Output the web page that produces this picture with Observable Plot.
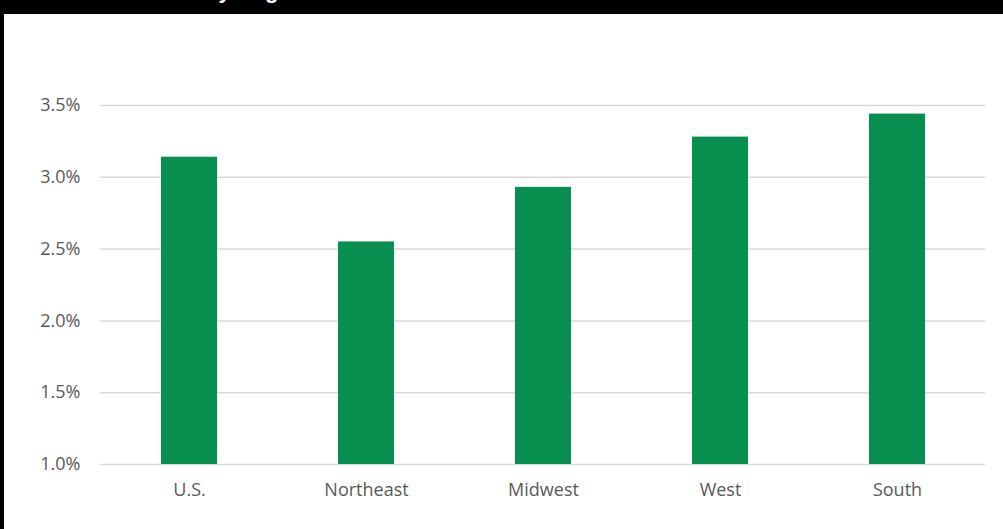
<!DOCTYPE html>
<html>
<head>
<meta charset="utf-8">
<script src="https://cdn.jsdelivr.net/npm/d3@7"></script>
<script src="https://cdn.jsdelivr.net/npm/@observablehq/plot@0.6"></script>
<style>
  html, body { margin: 0; padding: 0; background: #fff; }
  #wrap { position: relative; width: 1003px; height: 529px; overflow: hidden; background: #fff; }
  #bar { position: absolute; left: 0; top: 0; width: 1003px; height: 14px; background: #000; overflow: hidden; }
  #title { position: absolute; top: -20px; left: 0; white-space: nowrap; color: #fff; font: bold 22px "Liberation Sans", Arial, sans-serif; line-height: 1; }
  #border { position: absolute; left: 0; top: 0; width: 4px; height: 529px; background: #000; }
  #chart { position: absolute; left: 0; top: 0; }
</style>
</head>
<body>
<div id="wrap">
  <div id="chart"></div>
  <div id="bar"><span id="title"><span id="pre">Growth </span><span id="post">by Region</span></span></div>
  <div id="border"></div>
</div>
<script>
const categories = ["U.S.", "Northeast", "Midwest", "West", "South"];
const values = [3.14, 2.55, 2.93, 3.28, 3.44];
const yTicks = [1.0, 1.5, 2.0, 2.5, 3.0, 3.5];

const data = categories.map((c, i) => ({category: c, value: values[i]}));

const chart = Plot.plot({
  width: 1003,
  height: 529,
  marginLeft: 100,
  marginRight: 18,
  marginTop: 105,
  marginBottom: 65,
  style: {fontFamily: "'Open Sans', Lato, sans-serif", fontSize: "18px", color: "#595959", background: "transparent"},
  x: {domain: categories, paddingInner: 0.686, paddingOuter: 0.343, label: null},
  y: {domain: [1.0, 3.5], label: null},
  marks: [
    Plot.ruleY(yTicks, {stroke: "#d9d9d9", strokeWidth: 1.5}),
    Plot.barY(data, {x: "category", y1: 1.0, y2: "value", fill: "#078F50"}),
    Plot.axisY({ticks: yTicks, tickSize: 0, tickPadding: 20, tickFormat: d => d.toFixed(1) + "%", label: null, fill: "#595959"}),
    Plot.axisX({tickSize: 0, tickPadding: 19, label: null, fill: "#595959"})
  ]
});
document.getElementById("chart").appendChild(chart);

// position title so that "by" starts near x=205
const pre = document.getElementById("pre");
document.getElementById("title").style.left = (205 - pre.getBoundingClientRect().width) + "px";
</script>
</body>
</html>
